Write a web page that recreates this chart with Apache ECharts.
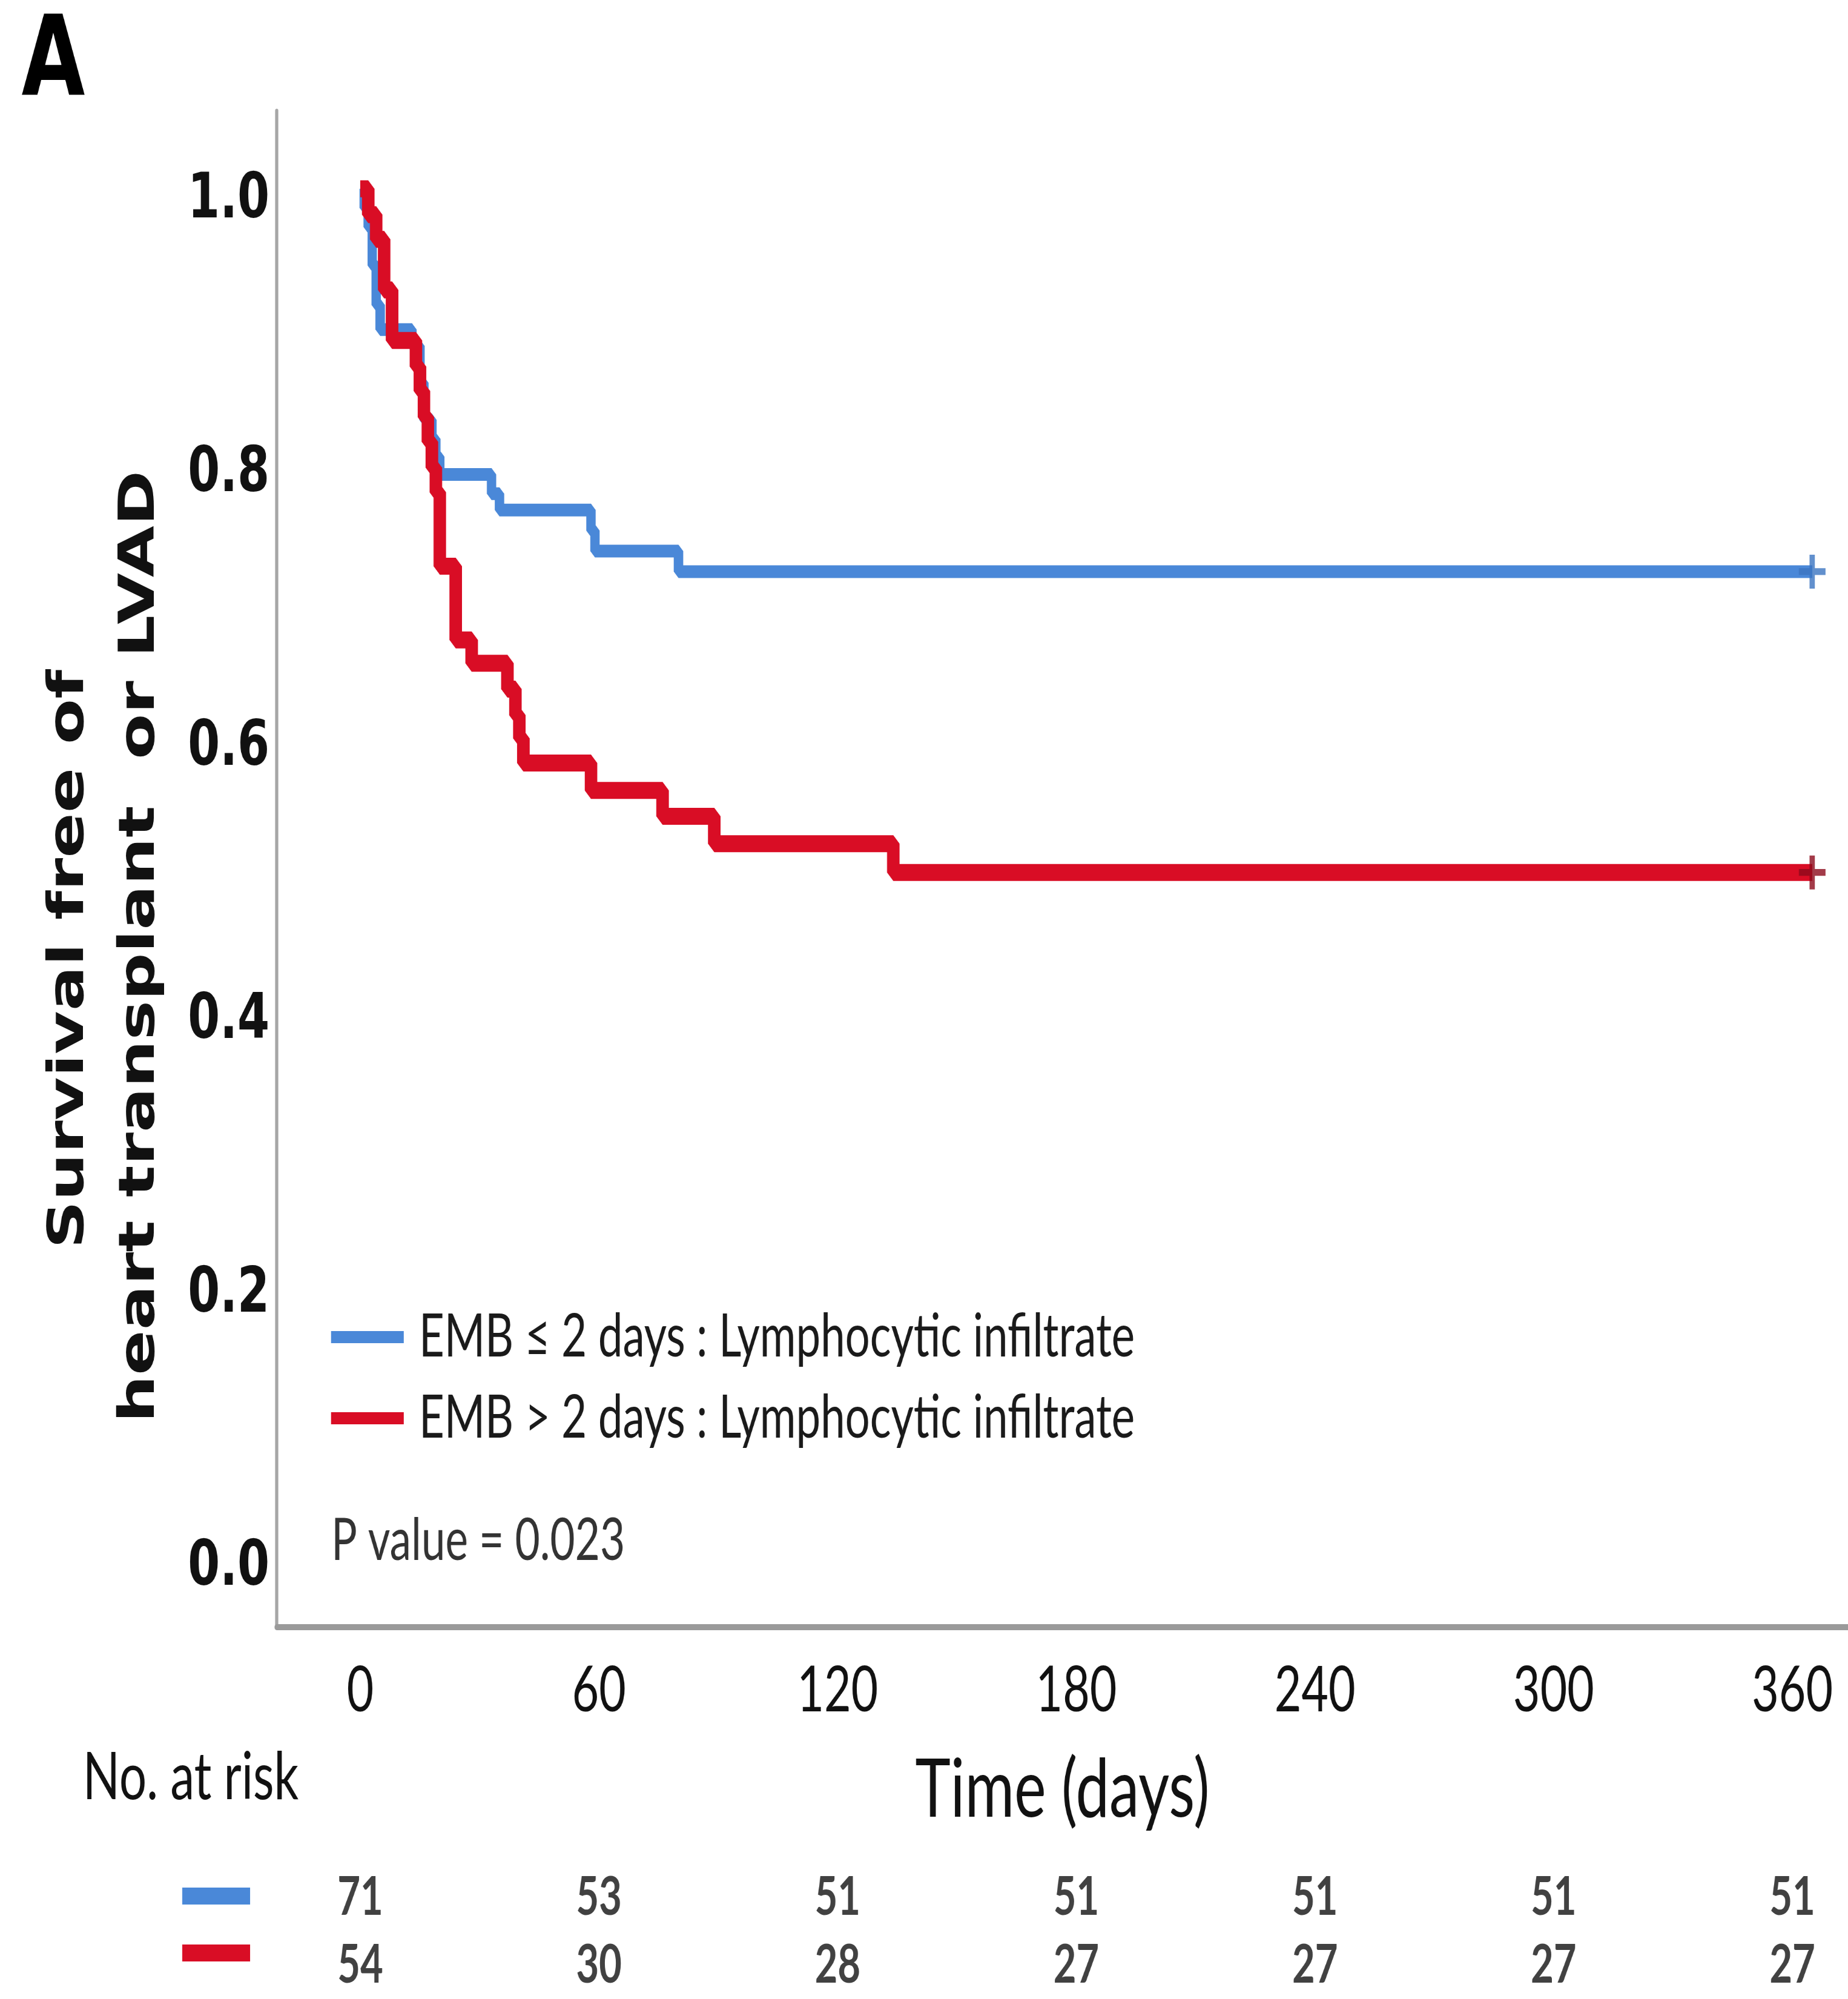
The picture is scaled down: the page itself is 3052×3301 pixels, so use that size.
<!DOCTYPE html>
<html><head><meta charset="utf-8">
<script src="https://cdn.jsdelivr.net/npm/echarts@6/dist/echarts.min.js"></script>
<style>
html,body{margin:0;padding:0;background:#fff;overflow:hidden;width:3052px;height:3301px}
#c{width:4124px;height:3301px;transform:scaleX(0.74006);transform-origin:0 0}
</style>
</head><body><div id="c"></div>
<script>
// ---------------- data ----------------
const seriesNames = ['EMB \u2264 2 days : Lymphocytic infiltrate', 'EMB > 2 days : Lymphocytic infiltrate'];
// Kaplan-Meier steps: time (days) and survival after the step
const blueTimes = [0, 1, 2, 3, 4, 5, 13, 15, 16, 18, 19, 20, 33, 35, 58, 59, 80, 365];
const blueSurv  = [1.0, 0.986, 0.972, 0.944, 0.915, 0.897, 0.885, 0.858, 0.831, 0.817, 0.804, 0.791, 0.777, 0.765, 0.750, 0.735, 0.720, 0.720];
const redTimes  = [0, 2, 4, 6, 8, 14, 15, 16, 17, 18, 19, 20, 24, 28, 37, 39, 40, 41, 58, 76, 89, 134, 365];
const redSurv   = [1.0, 0.981, 0.963, 0.926, 0.889, 0.870, 0.852, 0.833, 0.815, 0.796, 0.778, 0.724, 0.670, 0.653, 0.634, 0.615, 0.598, 0.580, 0.560, 0.541, 0.521, 0.500, 0.500];
const censorTime = 365;
const xTicks = [0, 60, 120, 180, 240, 300, 360];
const yTicks = [0, 0.2, 0.4, 0.6, 0.8, 1.0];
const riskRows = ['blue', 'red'];
const riskBlue = [71, 53, 51, 51, 51, 51, 51];
const riskRed  = [54, 30, 28, 27, 27, 27, 27];
const pValueText = 'P value = 0.023';

// ---------------- styles ----------------
const K = 4124 / 3052;              // page x -> chart x (chart is drawn condensed horizontally)
const BLUE = '#4a88d8', RED = '#d90d25';
const LATO = 'Lato, "Open Sans", sans-serif';
const WIDE = '"DejaVu Sans", Verdana, sans-serif';

const blueData = blueTimes.map((t, i) => [t, blueSurv[i]]);
const redData = redTimes.map((t, i) => [t, redSurv[i]]);
const blueEnd = [[censorTime, blueSurv[blueSurv.length - 1]]];
const redEnd = [[censorTime, redSurv[redSurv.length - 1]]];
const riskBlueData = xTicks.map((t, i) => [t, 0, riskBlue[i]]);
const riskRedData = xTicks.map((t, i) => [t, 1, riskRed[i]]);

const plus = 'path://M4,0h2v4h4v2h-4v4h-2v-4h-4v-2h4z';
const riskLabel = {show: true, position: 'inside', formatter: p => String(p.data[2]), fontSize: 88,
                   fontWeight: 'bold', fontFamily: LATO, color: '#111'};

const chart = echarts.init(document.getElementById('c'), null, {renderer: 'canvas'});
chart.setOption({
  animation: false,
  backgroundColor: '#fff',
  grid: [
    {left: 457 * K, right: 0, top: 183, bottom: 614, outerBoundsMode: 'none', containLabel: false},
    {left: 457 * K, right: 0, top: 3078, height: 224, outerBoundsMode: 'none', containLabel: false}
  ],
  xAxis: [
    {
      type: 'value', gridIndex: 0, min: -21, max: 374,
      axisLine: {show: true, onZero: false, lineStyle: {color: '#9a9a9a', width: 10}},
      axisTick: {show: false},
      splitLine: {show: false},
      axisLabel: {customValues: xTicks, fontSize: 104, fontFamily: LATO, color: '#111', margin: 53},
      name: 'Time (days)', nameLocation: 'middle', nameGap: 203,
      nameTextStyle: {fontSize: 134, fontFamily: LATO, color: '#111'}
    },
    {type: 'value', gridIndex: 1, min: -21, max: 374, show: false}
  ],
  yAxis: [
    {
      type: 'value', gridIndex: 0, min: -0.052, max: 1.057,
      axisLine: {show: true, onZero: false, lineStyle: {color: '#a6a6a6', width: 7}},
      axisTick: {show: false},
      splitLine: {show: false},
      axisLabel: {customValues: yTicks, formatter: v => '{v|' + v.toFixed(1) + '}', margin: 16,
                  rich: {v: {fontSize: 103, fontWeight: 'bold', fontFamily: WIDE, color: '#111',
                             lineHeight: 103, padding: [42, 0, 0, 0]}}}
    },
    {type: 'category', gridIndex: 1, data: riskRows, inverse: true, show: false}
  ],
  legend: {
    data: seriesNames, orient: 'vertical', left: 543 * K, top: 2154,
    itemWidth: 120 * K, itemHeight: 20, itemGap: 36, icon: 'rect',
    textStyle: {fontSize: 98, lineHeight: 90, fontFamily: LATO, color: '#1a1a1a', padding: [0, 0, 0, 29]}
  },
  series: [
    {name: seriesNames[0], type: 'line', step: 'end', data: blueData, symbol: 'none', color: BLUE,
     lineStyle: {width: 21, color: BLUE}, xAxisIndex: 0, yAxisIndex: 0, z: 2},
    {name: seriesNames[1], type: 'line', step: 'end', data: redData, symbol: 'none', color: RED,
     lineStyle: {width: 28, color: RED}, xAxisIndex: 0, yAxisIndex: 0, z: 3},
    {name: 'censor1', type: 'scatter', data: blueEnd, symbol: plus, symbolSize: [44 * K, 56],
     itemStyle: {color: '#3b74c0'}, z: 4},
    {name: 'censor2', type: 'scatter', data: redEnd, symbol: plus, symbolSize: [44 * K, 56],
     itemStyle: {color: '#8c0a1c'}, z: 4},
    {name: 'riskBlue', type: 'scatter', xAxisIndex: 1, yAxisIndex: 1, data: riskBlueData,
     symbol: 'circle', symbolSize: 1, itemStyle: {color: 'rgba(0,0,0,0)'}, label: riskLabel},
    {name: 'riskRed', type: 'scatter', xAxisIndex: 1, yAxisIndex: 1, data: riskRedData,
     symbol: 'circle', symbolSize: 1, itemStyle: {color: 'rgba(0,0,0,0)'}, label: riskLabel}
  ],
  graphic: [
    {type: 'text', x: 88 * K, y: 108, style: {text: 'A', font: 'bold 183px ' + WIDE, fill: '#000', align: 'center', verticalAlign: 'middle'}},
    {type: 'text', x: 116 * K, y: 1584, rotation: Math.PI / 2,
     style: {text: 'Survival free of', font: 'bold 110px ' + WIDE, fill: '#111', align: 'center', verticalAlign: 'middle'}},
    {type: 'text', x: 233 * K, y: 1563, rotation: Math.PI / 2,
     style: {text: 'heart transplant  or LVAD', font: 'bold 110px ' + WIDE, fill: '#111', align: 'center', verticalAlign: 'middle'}},
    {type: 'text', x: 547 * K, y: 2545, style: {text: pValueText, font: '96px ' + LATO, fill: '#333', align: 'left', verticalAlign: 'middle'}},
    {type: 'text', x: 137 * K, y: 2936, style: {text: 'No. at risk', font: '108px ' + LATO, fill: '#111', align: 'left', verticalAlign: 'middle'}},
    {type: 'rect', shape: {x: 301 * K, y: 3117, width: 112 * K, height: 28}, style: {fill: BLUE}},
    {type: 'rect', shape: {x: 301 * K, y: 3211, width: 112 * K, height: 28}, style: {fill: RED}}
  ]
});
</script>
</body></html>
